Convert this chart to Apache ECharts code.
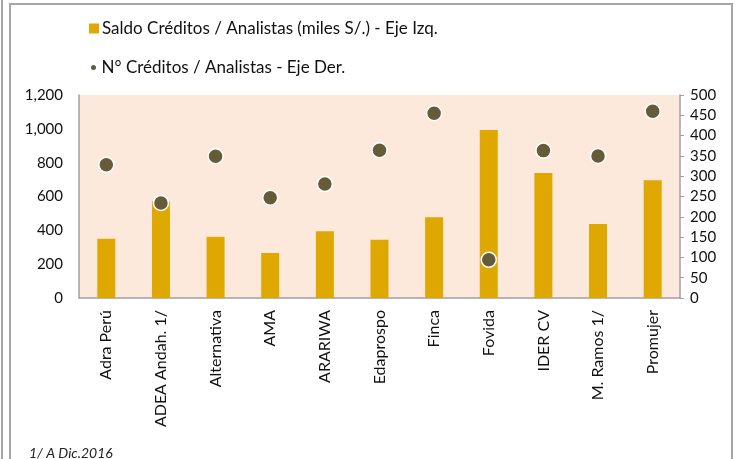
<!DOCTYPE html>
<html>
<head>
<meta charset="utf-8">
<script src="https://cdn.jsdelivr.net/npm/echarts@6/dist/echarts.min.js"></script>
<style>
  html, body { margin: 0; padding: 0; background: #fff; }
  #chart { width: 742px; height: 459px; }
</style>
</head>
<body>
<div id="chart"></div>
<script>
var categories = ['Adra Perú', 'ADEA Andah. 1/', 'Alternativa', 'AMA', 'ARARIWA', 'Edaprospo',
  'Finca', 'Fovida', 'IDER CV', 'M. Ramos 1/', 'Promujer'];
// saldo de créditos por analista (miles S/.), eje izquierdo
var saldoAnalista = [350, 570, 362, 266, 394, 345, 477, 993, 739, 437, 696];
// número de créditos por analista, eje derecho
var nCreditosAnalista = [328, 234, 349, 247, 281, 364, 455, 94, 363, 350, 460];

var FONT = 'Lato';
var myChart = echarts.init(document.getElementById('chart'));
myChart.setOption({
  animation: false,
  textStyle: { fontFamily: FONT },
  graphic: [
    { type: 'line', shape: { x1: 2, y1: 0, x2: 2, y2: 459 }, style: { stroke: '#a6a6a6', lineWidth: 2 } },
    { type: 'rect', shape: { x: 10, y: 4, width: 722, height: 470 }, style: { fill: 'none', stroke: '#a6a6a6', lineWidth: 2 } },
    { type: 'text', left: 29, top: 446, style: { text: '1/ A Dic.2016', font: 'italic 14px ' + FONT, fill: '#222' } }
  ],
  legend: [
    {
      data: [{ name: 'Saldo Créditos / Analistas (miles S/.) - Eje Izq.', icon: 'rect' }],
      left: 84, top: 15, itemWidth: 10, itemHeight: 10, itemGap: 4,
      textStyle: { fontSize: 17, color: '#111', fontFamily: FONT, padding: [0, 0, 0, -2] }
    },
    {
      data: [{ name: 'N° Créditos / Analistas - Eje Der.', icon: 'circle' }],
      left: 84, top: 54, itemWidth: 10, itemHeight: 7,
      textStyle: { fontSize: 17, color: '#111', fontFamily: FONT, padding: [0, 0, 0, -2] }
    }
  ],
  grid: { left: 79, right: 62, top: 95, bottom: 161, show: true, backgroundColor: '#fce9dc', borderWidth: 0 },
  xAxis: {
    type: 'category',
    data: categories,
    axisLine: { lineStyle: { color: '#a0a0a0', width: 1.5 } },
    axisTick: { show: false },
    axisLabel: { rotate: 90, fontSize: 16, color: '#111', margin: 12, interval: 0 }
  },
  yAxis: [
    {
      type: 'value', min: 0, max: 1200, interval: 200, position: 'left',
      splitLine: { show: false },
      axisLine: { show: true, lineStyle: { color: '#a0a0a0', width: 1.5 } },
      axisTick: { show: false },
      axisLabel: { fontSize: 15, color: '#111', margin: 16,
        formatter: function (v) { return v.toLocaleString('en-US'); } }
    },
    {
      type: 'value', min: 0, max: 500, interval: 50, position: 'right',
      splitLine: { show: false },
      axisLine: { show: true, lineStyle: { color: '#a0a0a0', width: 1.5 } },
      axisTick: { show: true, inside: false, length: 4, lineStyle: { color: '#a0a0a0' } },
      axisLabel: { fontSize: 15, color: '#111', margin: 10 }
    }
  ],
  series: [
    {
      name: 'Saldo Créditos / Analistas (miles S/.) - Eje Izq.',
      type: 'bar',
      yAxisIndex: 0,
      data: saldoAnalista,
      barWidth: 18,
      itemStyle: { color: '#dfa800' }
    },
    {
      name: 'N° Créditos / Analistas - Eje Der.',
      type: 'scatter',
      yAxisIndex: 1,
      data: nCreditosAnalista,
      symbolSize: 15,
      itemStyle: { color: '#665b38', opacity: 1, borderColor: '#fff', borderWidth: 1.5 }
    }
  ]
});
</script>
</body>
</html>
